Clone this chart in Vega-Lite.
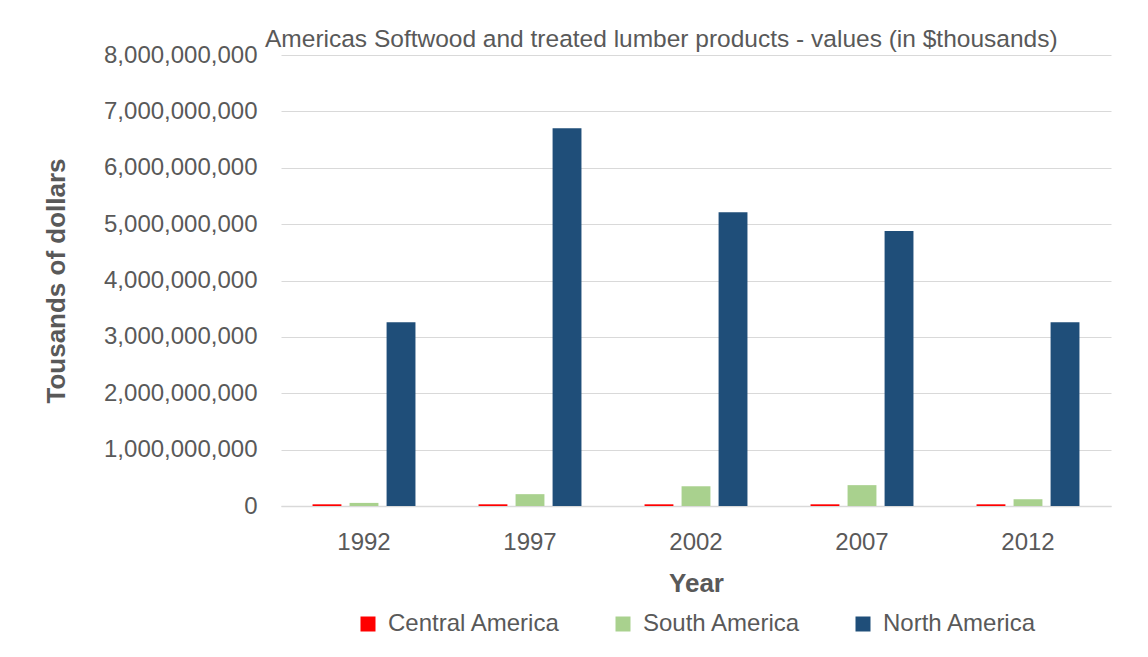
{
  "$schema": "https://vega.github.io/schema/vega-lite/v6.json",
  "autosize": {"type": "none"},
  "padding": {"left": 281, "top": 55, "right": 37, "bottom": 151},
  "width": 830,
  "height": 451,
  "background": "#ffffff",
  "title": {
    "text": "Americas Softwood and treated lumber products - values (in $thousands)",
    "anchor": "start",
    "frame": "group",
    "dx": -16,
    "offset": -9,
    "fontSize": 24.5,
    "fontWeight": "normal",
    "font": "Liberation Sans",
    "color": "#595959"
  },
  "data": {
    "values": [
      {"year": "1992", "region": "Central America", "value": 30000000},
      {"year": "1992", "region": "South America", "value": 55000000},
      {"year": "1992", "region": "North America", "value": 3260000000},
      {"year": "1997", "region": "Central America", "value": 30000000},
      {"year": "1997", "region": "South America", "value": 210000000},
      {"year": "1997", "region": "North America", "value": 6700000000},
      {"year": "2002", "region": "Central America", "value": 30000000},
      {"year": "2002", "region": "South America", "value": 350000000},
      {"year": "2002", "region": "North America", "value": 5210000000},
      {"year": "2007", "region": "Central America", "value": 30000000},
      {"year": "2007", "region": "South America", "value": 370000000},
      {"year": "2007", "region": "North America", "value": 4880000000},
      {"year": "2012", "region": "Central America", "value": 30000000},
      {"year": "2012", "region": "South America", "value": 120000000},
      {"year": "2012", "region": "North America", "value": 3260000000}
    ]
  },
  "mark": {"type": "bar"},
  "encoding": {
    "x": {
      "field": "year",
      "type": "nominal",
      "scale": {"paddingInner": 0.38, "paddingOuter": 0.19},
      "axis": {
        "title": "Year",
        "labelAngle": 0,
        "labelFontSize": 24,
        "labelColor": "#595959",
        "labelFont": "Liberation Sans",
        "labelPadding": 24,
        "ticks": false,
        "domainColor": "#D9D9D9",
        "domainWidth": 1.5,
        "titleFontSize": 26,
        "titleFont": "Liberation Sans",
        "titleFontWeight": "bold",
        "titleColor": "#595959",
        "titlePadding": 16
      }
    },
    "xOffset": {
      "field": "region",
      "type": "nominal",
      "sort": ["Central America", "South America", "North America"],
      "scale": {"paddingInner": 0.22, "paddingOuter": 0}
    },
    "y": {
      "field": "value",
      "type": "quantitative",
      "scale": {"domain": [0, 8000000000], "nice": false},
      "axis": {
        "title": "Tousands of dollars",
        "values": [0, 1000000000, 2000000000, 3000000000, 4000000000, 5000000000, 6000000000, 7000000000, 8000000000],
        "format": ",d",
        "labelFontSize": 24,
        "labelColor": "#595959",
        "labelFont": "Liberation Sans",
        "labelPadding": 24,
        "ticks": false,
        "domain": false,
        "grid": true,
        "gridColor": "#D9D9D9",
        "gridWidth": 1.2,
        "titleFontSize": 26,
        "titleFont": "Liberation Sans",
        "titleFontWeight": "bold",
        "titleColor": "#595959",
        "titlePadding": 34
      }
    },
    "color": {
      "field": "region",
      "type": "nominal",
      "sort": ["Central America", "South America", "North America"],
      "scale": {
        "domain": ["Central America", "South America", "North America"],
        "range": ["#FF0000", "#A9D18E", "#1F4E79"]
      },
      "legend": {
        "orient": "bottom",
        "direction": "horizontal",
        "title": null,
        "symbolType": "square",
        "symbolSize": 225,
        "symbolStrokeWidth": 0,
        "labelFontSize": 24,
        "labelFont": "Liberation Sans",
        "labelColor": "#595959",
        "labelOffset": 8,
        "labelLimit": 0,
        "columnPadding": 50,
        "offset": 16
      }
    }
  },
  "config": {
    "view": {"stroke": null},
    "font": "Liberation Sans",
    "legend": {"layout": {"bottom": {"anchor": "middle"}}}
  }
}
